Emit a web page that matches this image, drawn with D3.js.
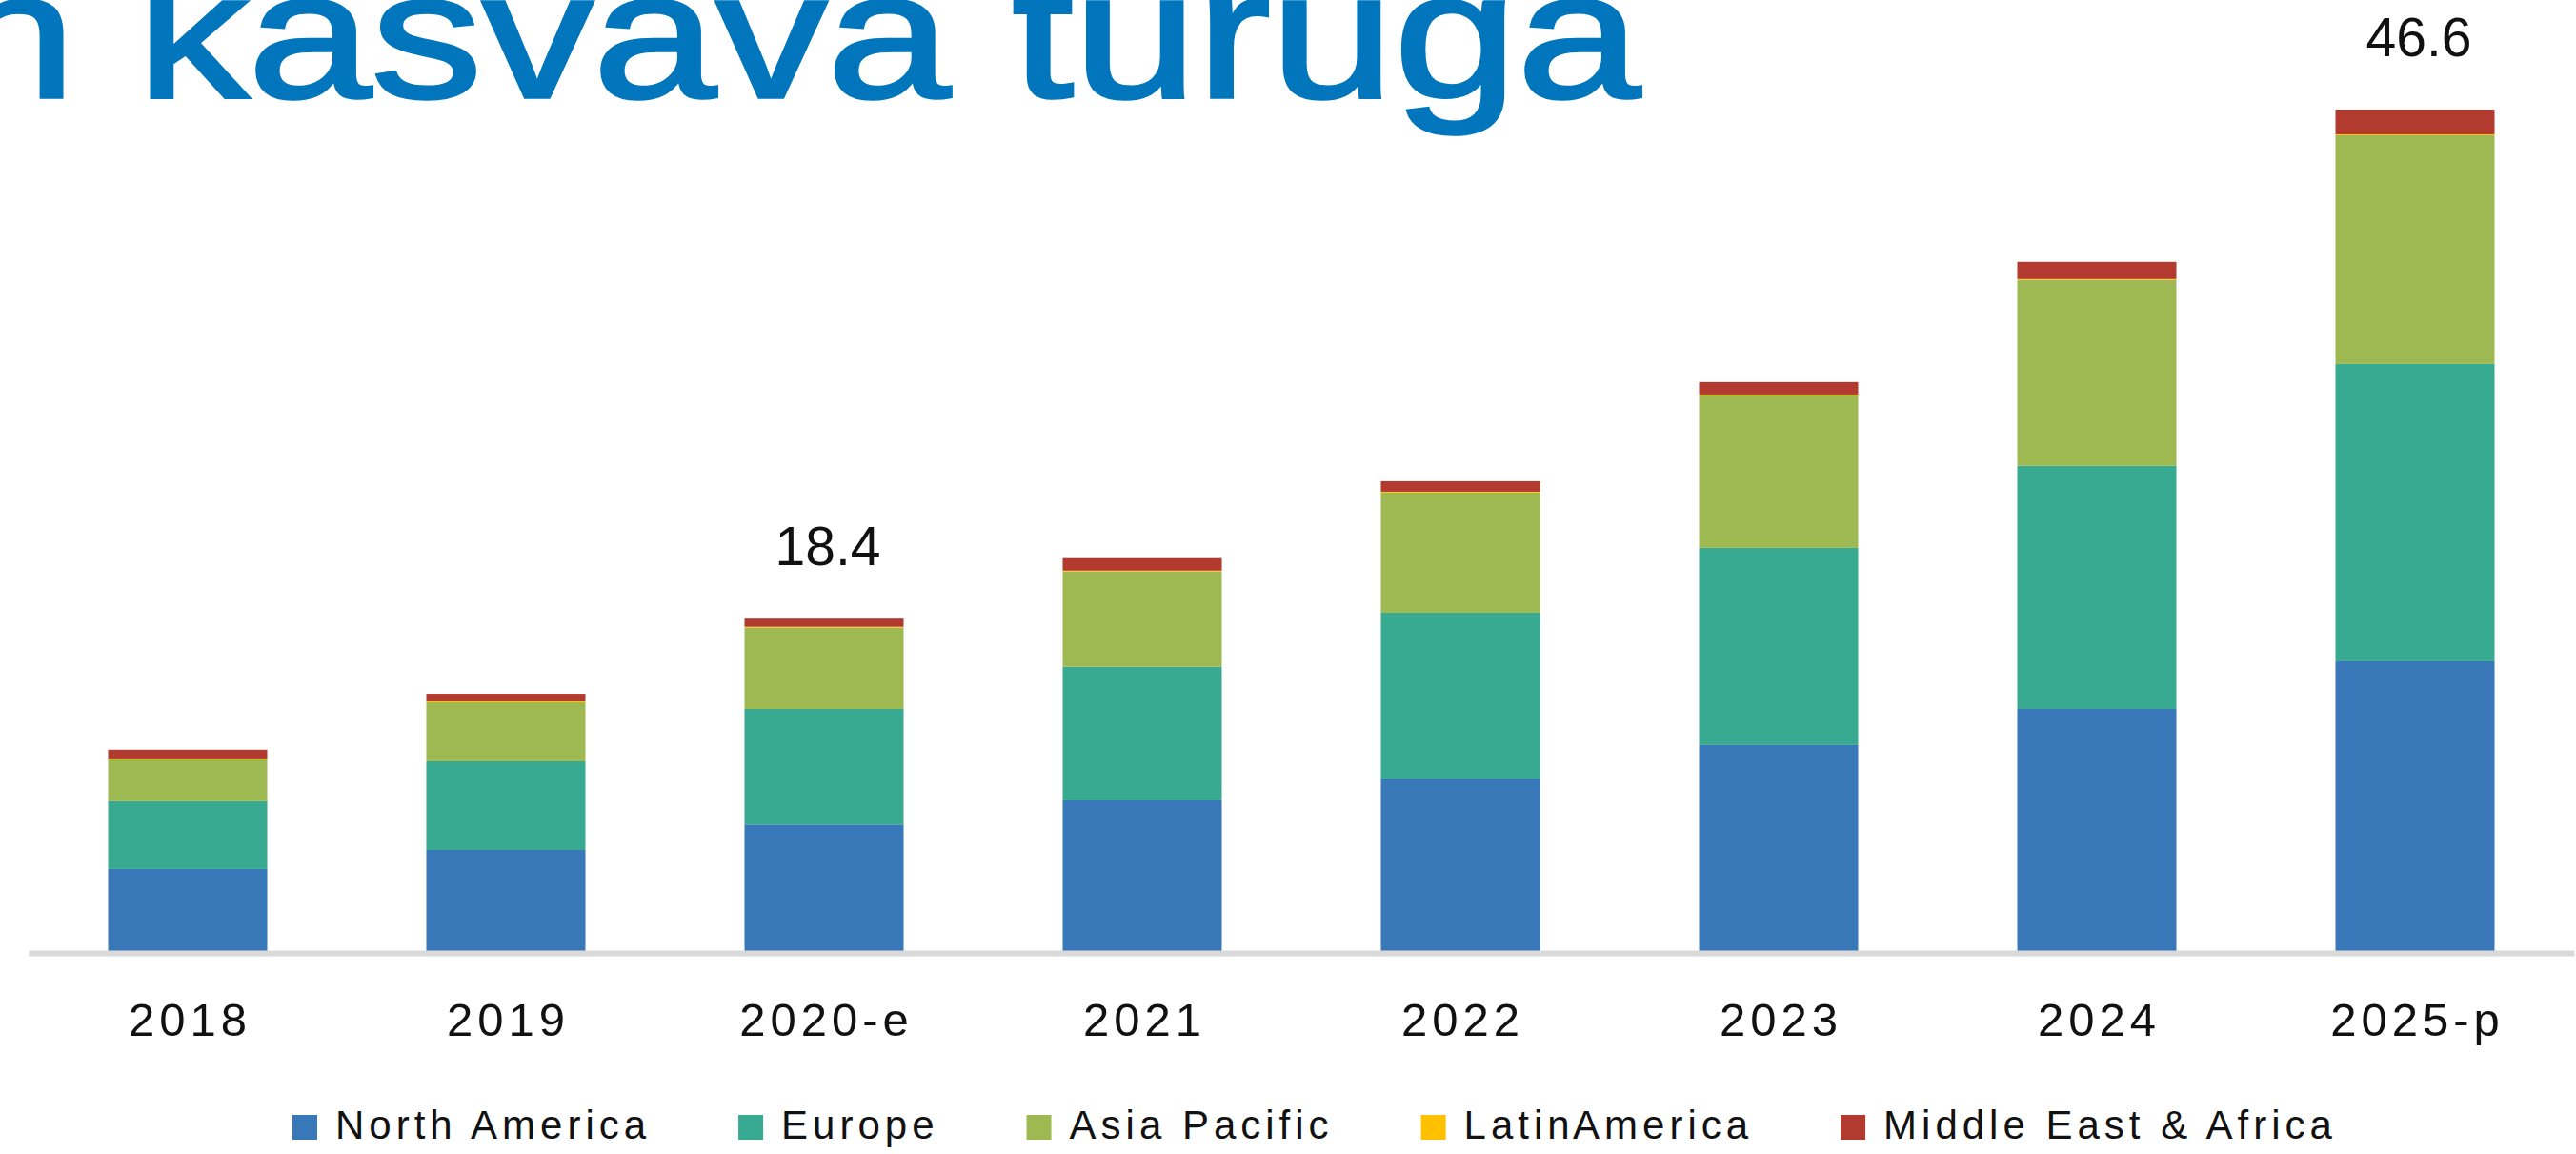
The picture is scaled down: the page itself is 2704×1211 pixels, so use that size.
<!DOCTYPE html>
<html>
<head>
<meta charset="utf-8">
<script src="https://cdn.jsdelivr.net/npm/d3@7"></script>
<style>
  html, body { margin: 0; padding: 0; background: #fff; overflow: hidden; }
  text { font-family: "Liberation Sans", Arial, sans-serif; }
</style>
</head>
<body>
<svg id="chart" width="2704" height="1211"></svg>
<script>
// data (market size, by region)
var years = ["2018", "2019", "2020-e", "2021", "2022", "2023", "2024", "2025-p"];
var regions = ["North America", "Europe", "Asia Pacific", "Latin America", "Middle East & Africa"];
var northAmerica = [4.54, 5.59, 7.0, 8.34, 9.55, 11.4, 13.4, 16.04];
var europe = [3.75, 4.91, 6.4, 7.39, 9.18, 10.92, 13.46, 16.46];
var asiaPacific = [2.32, 3.27, 4.5, 5.28, 6.65, 8.44, 10.29, 12.66];
var latinAmerica = [0.05, 0.05, 0.05, 0.05, 0.05, 0.05, 0.05, 0.05];
var middleEastAfrica = [0.48, 0.42, 0.45, 0.69, 0.58, 0.69, 0.95, 1.37];
var totalLabels = [null, null, "18.4", null, null, null, null, "46.6"];
var colors = ["#3878b8", "#38aa92", "#9eb952", "#ffc000", "#b23a2f"];
var title = "n kasvava turuga";

var svg = d3.select("#chart");

var rows = years.map(function(y, i) {
  return {
    year: y,
    "North America": northAmerica[i],
    "Europe": europe[i],
    "Asia Pacific": asiaPacific[i],
    "Latin America": latinAmerica[i],
    "Middle East & Africa": middleEastAfrica[i],
    label: totalLabels[i]
  };
});

var series = d3.stack().keys(regions)(rows);
var color = d3.scaleOrdinal().domain(regions).range(colors);

var x = d3.scaleBand().domain(years).range([30, 2702]).paddingInner(0.5).paddingOuter(0.25);
var yMax = d3.max(series[series.length - 1], function(d) { return d[1]; });
var y = d3.scaleLinear().domain([0, yMax]).range([998, 115]);

// title, cut off at the top-left like in the screenshot
svg.append("text")
  .attr("x", -50)
  .attr("y", 102)
  .attr("textLength", 1772)
  .attr("lengthAdjust", "spacingAndGlyphs")
  .style("font-size", "189px")
  .style("fill", "#0176bc")
  .style("stroke", "#0176bc")
  .style("stroke-width", 3.5)
  .text(title);

// stacked bars
svg.append("g").selectAll("g")
  .data(series)
  .enter().append("g")
  .attr("fill", function(d) { return color(d.key); })
  .selectAll("rect")
  .data(function(d) { return d; })
  .enter().append("rect")
  .attr("x", function(d) { return x(d.data.year); })
  .attr("width", x.bandwidth())
  .attr("y", function(d) { return y(d[1]); })
  .attr("height", function(d) { return y(d[0]) - y(d[1]); });

// x axis
var axis = svg.append("g")
  .attr("transform", "translate(0,1000)")
  .call(d3.axisBottom(x).tickSize(0));
axis.select(".domain").attr("stroke", "#d9d9d9").attr("stroke-width", 6);
axis.selectAll(".tick text")
  .attr("y", 87)
  .attr("dy", 0)
  .attr("dx", 2.5)
  .attr("fill", "#111")
  .style("font-family", "'Liberation Sans', Arial, sans-serif")
  .style("font-size", "49px")
  .style("letter-spacing", "5px");

// total labels
svg.append("g").selectAll("text")
  .data(series[series.length - 1].filter(function(d) { return d.data.label; }))
  .enter().append("text")
  .attr("x", function(d) { return x(d.data.year) + x.bandwidth() / 2 + 4; })
  .attr("y", function(d) { return y(d[1]) - 56; })
  .attr("text-anchor", "middle")
  .style("font-size", "57px")
  .style("fill", "#111")
  .text(function(d) { return d.data.label; });

// legend
var legend = svg.append("g").attr("transform", "translate(307,1170)");
var lx = 0;
regions.forEach(function(r) {
  var item = legend.append("g").attr("transform", "translate(" + lx + ",0)");
  item.append("rect").attr("width", 26).attr("height", 26).attr("fill", color(r));
  var t = item.append("text")
    .attr("x", 45)
    .attr("y", 25)
    .style("font-size", "42px")
    .style("letter-spacing", "5px")
    .style("word-spacing", r === "Latin America" ? "-16px" : "0px")
    .style("fill", "#111")
    .text(r);
  lx += 45 + t.node().getBBox().width + 92;
});
</script>
</body>
</html>
